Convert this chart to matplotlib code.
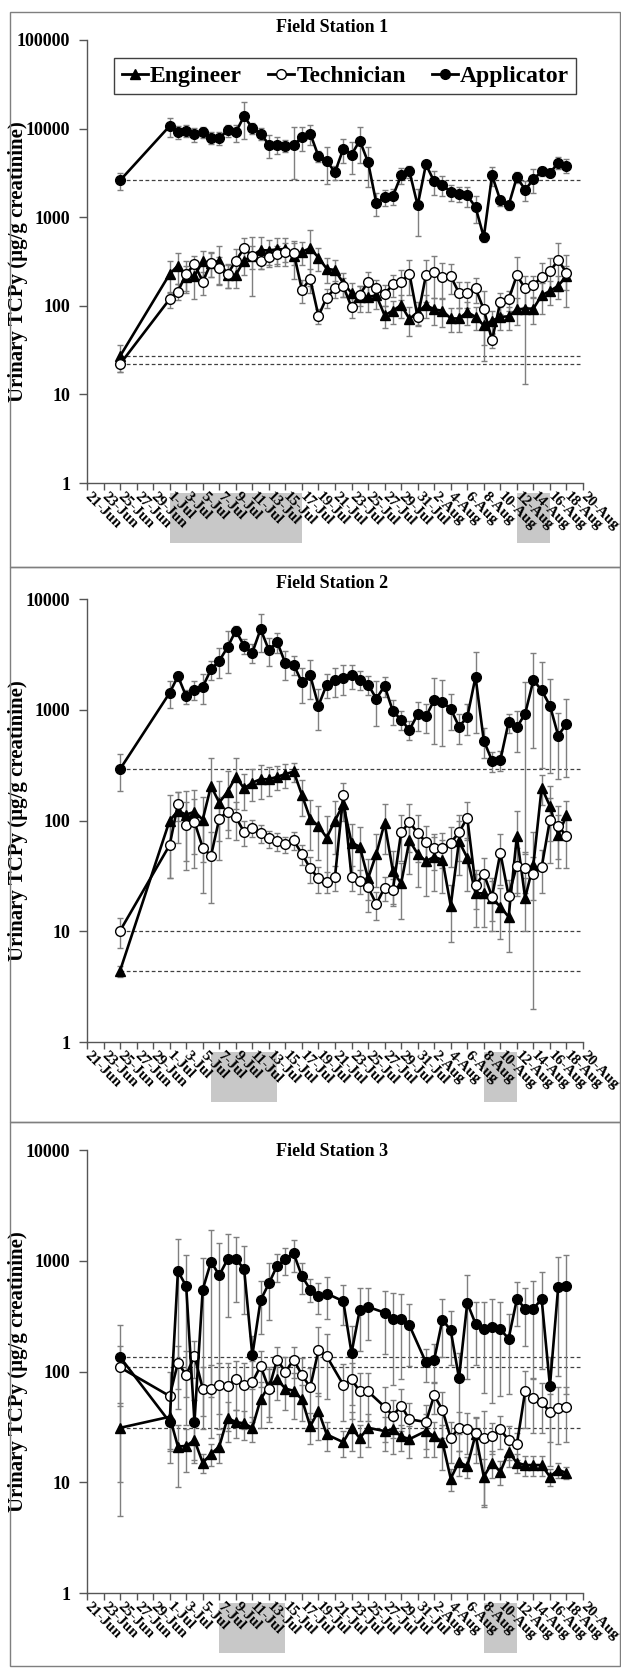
import numpy as np
import pandas as pd
import matplotlib
matplotlib.use("Agg")
import matplotlib.pyplot as plt
import matplotlib.transforms as mtransforms
from matplotlib.patches import Rectangle
from matplotlib.lines import Line2D
from matplotlib.ticker import FixedLocator, NullLocator, FixedFormatter

plt.rcParams['font.family'] = ['Liberation Serif', 'DejaVu Serif']

# sampling dates: one baseline day, then daily samples
dates_12 = pd.to_datetime(["2012-06-25"]).append(pd.date_range("2012-07-01", "2012-08-18"))
dates_3 = dates_12.drop(pd.to_datetime(["2012-07-21", "2012-07-26", "2012-07-31"]))

# Field Station 1
fs1_eng = [27, 228, 285, 213, 218, 318, 305, 321, 223, 223, 324, 368, 427, 420, 435, 435, 369, 408, 446, 350, 262,
           253, 180, 140, 126, 126, 131, 78, 88, 102, 71, 85, 102, 91, 88, 72, 72, 85, 75, 60, 68,
           75, 76, 91, 93, 93, 131, 147, 168, 217]
fs1_eng_sd = [9, 90, 110, 65, 100, 100, 95, 150, 65, 65, 100, 110, 170, 130, 150, 150, 170, 120, 280, 100, 80,
              75, 55, 40, 40, 40, 40, 22, 25, 30, 25, 25, 30, 30, 30, 22, 22, 25, 22, 36, 20,
              22, 22, 30, 80, 30, 50, 45, 50, 65]
fs1_tech = [22, 119, 145, 229, 294, 188, 302, 265, 227, 322, 446, 365, 324, 353, 385, 409, 398, 152, 201, 77, 124,
            157, 166, 97, 134, 186, 157, 135, 175, 186, 231, 74, 221, 241, 212, 215, 140, 140, 157, 91, 41,
            111, 118, 221, 157, 171, 212, 245, 327, 237]
fs1_tech_sd = [4, 25, 30, 90, 75, 55, 90, 90, 70, 110, 130, 235, 65, 80, 90, 100, 110, 45, 60, 15, 30,
               35, 40, 25, 35, 55, 40, 35, 50, 70, 100, 15, 110, 120, 90, 80, 45, 45, 50, 55, 8,
               30, 30, 130, 60, 45, 90, 100, 180, 140]
fs1_app = [2600, 10700, 9170, 9500, 8640, 9100, 7920, 7780, 9580, 9100, 13800, 10100, 8780, 6610, 6610, 6380, 6490,
           8060, 8790, 4880, 4300, 3220, 5900, 5090, 7330, 4180, 1440, 1680, 1730, 2960, 3300,
           1360, 3940, 2530, 2320, 1920, 1840, 1760, 1300, 597, 2960, 1550, 1360, 2830, 2040, 2670, 3300, 3140, 4140, 3830]
fs1_app_sd = [550, 2600, 1600, 1500, 1500, 1300, 1200, 1300, 1500, 2000, 6200, 1500, 1400, 1900, 1400, 1000, 3800,
              2400, 2200, 700, 1900, 600, 1800, 2000, 3200, 2000, 420, 350, 350, 600, 500,
              740, 250, 750, 600, 400, 350, 450, 450, 70, 700, 200, 150, 400, 500, 800, 350, 300, 600, 700]

# Field Station 2
fs2_eng = [4.4, 100, 122, 113, 120, 102, 205, 145, 182, 248, 195, 220, 236, 236, 248, 262, 277, 170, 104, 89, 70,
           100, 140, 63, 58, 30, 50, 95, 35, 27, 66, 50, 43, 47, 44, 17, 65, 46, 22, 22, 20,
           16.6, 13.5, 72, 20, 40, 198, 135, 74, 111]
fs2_eng_sd = [0.5, 70, 60, 70, 70, 60, 160, 80, 100, 120, 70, 70, 80, 70, 60, 65, 55, 60, 50, 45, 40,
              50, 40, 30, 30, 15, 25, 45, 18, 14, 33, 25, 22, 24, 22, 9, 33, 23, 11, 11, 10,
              8, 7, 50, 10, 38, 60, 70, 37, 40]
fs2_tech = [10.1, 60, 140, 91, 97, 57, 48, 104, 120, 107, 79, 86, 77, 69, 65, 61, 66, 50, 37, 30, 28,
            31, 170, 31, 28.5, 25, 17.6, 24.8, 23.6, 78, 97, 77, 64, 56, 57, 63, 78, 106, 26, 33, 20.5,
            51, 21, 39, 37, 33, 38, 101, 90, 72]
fs2_tech_sd = [3, 30, 40, 55, 60, 35, 30, 60, 50, 40, 20, 15, 15, 12, 12, 10, 12, 10, 10, 8, 6,
               8, 50, 8, 7, 6, 5, 6, 6, 35, 45, 35, 25, 20, 20, 25, 35, 40, 10, 13, 8,
               25, 8, 18, 15, 14, 16, 60, 45, 35]
fs2_app = [291, 1420, 2010, 1320, 1520, 1610, 2310, 2770, 3660, 5190, 3770, 3280, 5340, 3460, 4100, 2620, 2550,
           1770, 2040, 1090, 1690, 1850, 1950, 2040, 1870, 1690, 1260, 1640, 973, 811, 658,
           907, 871, 1220, 1170, 1020, 705, 857, 1980, 526, 346, 351, 773, 695, 920, 1850, 1500, 1090, 585, 746]
fs2_app_sd = [105, 390, 200, 200, 300, 480, 460, 830, 1500, 520, 570, 650, 2000, 1000, 820, 780, 500,
              620, 800, 440, 420, 550, 580, 500, 370, 340, 540, 330, 240, 160, 130,
              270, 260, 730, 700, 360, 210, 260, 1360, 160, 70, 70, 150, 280, 870, 1400, 1200, 820, 350, 500]

# Field Station 3
fs3_eng = [31, 39, 21, 21.3, 24, 15, 18, 21, 38, 35, 34, 31, 56, 74, 85, 70, 67, 56, 32, 44, 27,
           23, 31, 25, 31, 29, 30, 26, 24.5,
           29, 26, 23, 10.8, 15.3, 13.9, 27, 11.2, 15, 12.4, 18.8, 15, 14.3, 14.3, 14.3, 11.2, 13, 12.1]
fs3_eng_sd = [21, 20, 12, 9, 8, 3, 4, 6, 15, 10, 10, 8, 25, 35, 30, 25, 30, 20, 10, 20, 8,
              6, 12, 8, 10, 10, 12, 7, 8,
              12, 9, 10, 2.5, 4, 3, 12, 5, 4, 3, 5, 3, 3, 3, 3, 2, 2, 1.5]
fs3_tech = [109, 60, 120, 93, 138, 70, 70, 75, 74, 85, 75, 80, 112, 70, 128, 99, 128, 93, 72, 155, 137,
            76, 85, 66, 66, 48, 40, 49, 37,
            35, 61, 45, 25, 31, 30, 28, 25, 26, 30, 24, 22, 66, 58, 53, 43, 47, 48]
fs3_tech_sd = [60, 40, 50, 60, 50, 40, 45, 45, 45, 40, 45, 45, 40, 35, 40, 35, 40, 40, 35, 95, 80,
               40, 35, 30, 30, 25, 15, 20, 15,
               15, 20, 20, 10, 12, 12, 10, 19, 8, 10, 8, 6, 35, 30, 25, 20, 25, 25]
fs3_app = [135, 35, 806, 589, 35, 550, 979, 741, 1028, 1028, 851, 140, 440, 624, 902, 1028, 1164, 726, 550, 478, 506,
           431, 147, 362, 383, 340, 296, 296, 261,
           121, 128, 294, 235, 87, 416, 270, 244, 252, 240, 198, 450, 370, 370, 450, 74, 581, 593]
fs3_app_sd = [130, 20, 760, 530, 20, 510, 920, 700, 720, 600, 520, 70, 220, 330, 260, 280, 380, 220, 130, 150, 210,
              170, 110, 210, 190, 195, 220, 210, 150,
              40, 50, 160, 120, 60, 330, 155, 180, 200, 180, 135, 195, 200, 285, 345, 60, 490, 530]

titles = ["Field Station 1", "Field Station 2", "Field Station 3"]
y_tops = [100000, 10000, 10000]
shaded = [[("2012-07-01", "2012-07-17"), ("2012-08-12", "2012-08-16")],
          [("2012-07-06", "2012-07-14"), ("2012-08-08", "2012-08-12")],
          [("2012-07-07", "2012-07-15"), ("2012-08-08", "2012-08-12")]]

panels = [
    (dates_12, fs1_eng, fs1_eng_sd, fs1_tech, fs1_tech_sd, fs1_app, fs1_app_sd),
    (dates_12, fs2_eng, fs2_eng_sd, fs2_tech, fs2_tech_sd, fs2_app, fs2_app_sd),
    (dates_3, fs3_eng, fs3_eng_sd, fs3_tech, fs3_tech_sd, fs3_app, fs3_app_sd),
]

x_start = pd.Timestamp("2012-06-21")
x_end = pd.Timestamp("2012-08-20")
tick_days = pd.date_range(x_start, x_end, freq="2D")
tick_labels = [f"{d.day}-{d.strftime('%b')}" for d in tick_days]

W, H = 621, 1669
fig = plt.figure(figsize=(W / 100, H / 100), dpi=100)

ax_tops = [40, 599, 1150]
ax_h = 443
ax_left, ax_w = 87, 496
box_tops = [12, 567, 1122]
box_bottoms = [567, 1122, 1666]
title_y = [27, 583, 1152]

grey = "#7f7f7f"

for i, (dates, eng, eng_sd, tech, tech_sd, app, app_sd) in enumerate(panels):
    # panel frame
    fig.patches.append(Rectangle((10 / W, 1 - box_bottoms[i] / H), 610 / W,
                                 (box_bottoms[i] - box_tops[i]) / H,
                                 transform=fig.transFigure, fill=False,
                                 edgecolor=grey, lw=1))
    ax = fig.add_axes([ax_left / W, 1 - (ax_tops[i] + ax_h) / H, ax_w / W, ax_h / H])
    ax.set_yscale("log")
    ax.set_ylim(1, y_tops[i])
    ax.set_xlim(x_start, x_end)

    series = [(eng, eng_sd, "^", "black"), (tech, tech_sd, "o", "white"), (app, app_sd, "o", "black")]
    for vals, sd, mk, face in series:
        ax.hlines(vals[0], dates[0], x_end, colors="#404040", linestyles=(0, (3, 2)), lw=0.9, zorder=1)
        ax.errorbar(dates, vals, yerr=sd, fmt="none", ecolor=grey, elinewidth=1,
                    capsize=2.5, capthick=1, zorder=2)
    for vals, sd, mk, face in series:
        ax.plot(dates, vals, "-", color="black", lw=1.9, marker=mk, ms=7.2 if mk == "^" else 7,
                mfc=face, mec="black", mew=1, zorder=3)

    # grey bands under the date labels
    trans = mtransforms.blended_transform_factory(ax.transData, ax.transAxes)
    for a, b in shaded[i]:
        xa = matplotlib.dates.date2num(pd.Timestamp(a))
        xb = matplotlib.dates.date2num(pd.Timestamp(b))
        ax.add_patch(Rectangle((xa, -0.135), xb - xa, 0.112, transform=trans,
                               facecolor="#c8c8c8", edgecolor="none", clip_on=False, zorder=0.5))

    for side in ["top", "right"]:
        ax.spines[side].set_visible(False)
    for side in ["left", "bottom"]:
        ax.spines[side].set_color("#555555")
        ax.spines[side].set_linewidth(1)

    decades = [10 ** k for k in range(int(np.log10(y_tops[i])) + 1)]
    ax.yaxis.set_major_locator(FixedLocator(decades))
    ax.yaxis.set_major_formatter(FixedFormatter([str(v) for v in decades]))
    ax.yaxis.set_minor_locator(NullLocator())
    ax.tick_params(axis="y", direction="out", length=6, width=1, color="#555555", pad=6,
                   labelsize=13)
    for lab in ax.get_yticklabels():
        lab.set_fontweight("bold")

    ax.xaxis.set_major_locator(FixedLocator(matplotlib.dates.date2num(tick_days)))
    ax.xaxis.set_major_formatter(FixedFormatter(tick_labels))
    ax.xaxis.set_minor_locator(NullLocator())
    ax.tick_params(axis="x", direction="out", length=5, width=1, color="#555555", pad=3,
                   labelsize=11)
    for lab in ax.get_xticklabels():
        lab.set_rotation(-45)
        lab.set_ha("left")
        lab.set_va("center")
        lab.set_rotation_mode("anchor")
        lab.set_fontweight("bold")

    ax.set_ylabel("Urinary TCPy (\u00b5g/g creatinine)", fontsize=15, fontweight="bold")
    ax.yaxis.set_label_coords(-0.118, 0.5)

    fig.text(332 / W, 1 - title_y[i] / H, titles[i], ha="center", va="center",
             fontsize=13, fontweight="bold")

    if i == 0:
        handles = [Line2D([], [], color="black", lw=2, marker="^", ms=7.5, mfc="black", mec="black"),
                   Line2D([], [], color="black", lw=2, marker="o", ms=7, mfc="white", mec="black"),
                   Line2D([], [], color="black", lw=2, marker="o", ms=7, mfc="black", mec="black")]
        leg = ax.legend(handles, ["Engineer", "Technician", "Applicator"], ncol=3,
                        loc="upper center", bbox_to_anchor=(0.521, 0.985),
                        prop={"size": 17, "weight": "bold"}, handlelength=1.1, handletextpad=0.1,
                        columnspacing=1.1, borderpad=0.3, fancybox=False,
                        edgecolor="#404040", framealpha=1)
        leg.get_frame().set_linewidth(1)

fig.savefig("out.png", dpi=100)
